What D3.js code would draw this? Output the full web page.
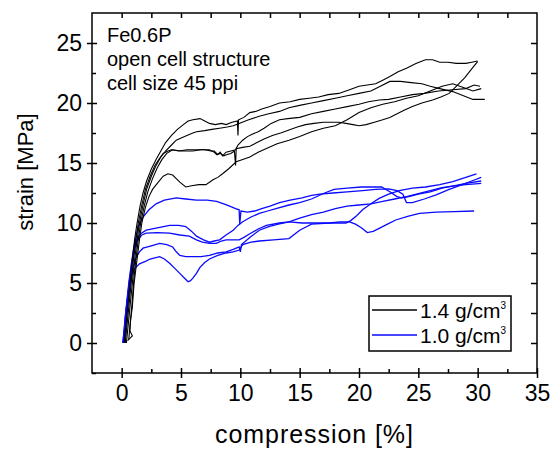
<!DOCTYPE html>
<html>
<head>
<meta charset="utf-8">
<script src="https://cdn.jsdelivr.net/npm/d3@7"></script>
<style>
  body { margin: 0; background: #fff; }
  svg { display: block; font-family: "Liberation Sans", Arial, sans-serif; }
</style>
</head>
<body>
<div id="chart"></div>
<script>
// axis ticks
const xMajor = [0, 5, 10, 15, 20, 25, 30, 35];
const xMinor = [2.5, 7.5, 12.5, 17.5, 22.5, 27.5, 32.5];
const yMajor = [0, 5, 10, 15, 20, 25];
const yMinor = [-2.5, 2.5, 7.5, 12.5, 17.5, 22.5];

const notes = ["Fe0.6P", "open cell structure", "cell size 45 ppi"];
const legendLabels = ["1.4 g/cm", "1.0 g/cm"];
const legendColors = ["#000000", "#0a0aff"];

// 1.4 g/cm3 samples  [compression %, MPa]
const black1 = [[0.2,0],[0.35,1.5],[0.5,3],[0.7,5],[0.9,7],[1.1,8.7],[1.3,10],[1.55,11.4],[1.8,12.5],[2.1,13.5],[2.5,14.5],[2.9,15.3],[3.3,16],[3.7,16.7],[4.2,17.3],[4.7,17.8],[5.2,18.2],[5.6,18.5],[6.0,18.6],[6.6,18.7],[7.0,18.5],[7.4,18.3],[7.9,18.2],[8.4,18.3],[8.8,18.2],[9.3,18.4],[9.75,18.5],[9.8,17.3],[9.85,18.6],[10.3,18.8],[10.8,19.2],[11.3,19.3],[11.8,19.5],[12.5,19.7],[13.3,20.0],[14.2,20.1],[15.0,20.3],[15.8,20.4],[16.6,20.5],[17.4,20.7],[18.3,20.8],[19.2,21.1],[20.0,21.4],[20.7,21.5],[21.4,21.6],[22.0,21.9],[22.6,22.2],[23.3,22.6],[24.0,22.9],[24.8,23.3],[25.6,23.6],[26.2,23.6],[26.8,23.4],[27.5,23.4],[28.2,23.3],[29.0,23.3],[29.5,23.4],[30.0,23.5]];
const black2 = [[0.3,0],[0.45,1.5],[0.6,3],[0.8,5],[1.0,7],[1.2,8.6],[1.4,10],[1.7,11.5],[2.0,12.8],[2.4,13.9],[2.8,14.8],[3.2,15.4],[3.5,15.8],[3.9,16.0],[4.2,16.1],[4.8,16.0],[5.5,16.1],[6.2,16.1],[7.0,16.1],[7.5,16.0],[7.8,16.0],[8.1,15.7],[8.3,15.9],[8.5,15.6],[8.8,15.9],[9.2,16.0],[9.6,16.1],[9.8,16.5],[10.2,16.9],[10.6,17.2],[11.0,17.4],[11.5,17.6],[12.0,17.9],[12.6,18.3],[13.3,18.6],[14.0,18.7],[15.0,18.8],[16.0,19.1],[17.0,19.3],[18.0,19.5],[19.0,19.7],[20.0,19.9],[20.8,20.1],[21.7,20.25],[22.5,20.3],[23.5,20.5],[24.5,20.7],[25.5,20.8],[26.7,21.0],[27.9,21.1],[29.0,21.2],[29.7,21.5],[30.2,21.4]];
const black3 = [[0.4,0],[0.55,1.5],[0.7,3],[0.9,5],[1.1,7],[1.3,8.6],[1.5,10],[1.8,11.5],[2.1,12.8],[2.5,13.9],[2.9,14.8],[3.3,15.5],[3.7,16.0],[4.2,16.5],[4.6,16.9],[5.3,17.2],[6.0,17.5],[6.3,17.6],[7.0,17.7],[7.6,17.8],[8.25,17.9],[8.9,18.0],[9.4,18.1],[9.9,18.3],[10.7,18.6],[11.6,18.9],[12.4,19.1],[13.3,19.3],[14.1,19.6],[15.0,19.8],[16.0,20.0],[17.0,20.2],[18.0,20.4],[19.0,20.6],[20.0,20.8],[21.0,21.0],[21.8,21.4],[22.6,21.8],[23.5,21.8],[24.4,21.7],[25.3,21.6],[26.0,21.4],[26.8,21.2],[27.9,20.95],[28.8,20.6],[29.6,20.3],[30.6,20.3]];
const black4 = [[0.5,0.2],[0.9,0.6],[0.7,1.0],[0.75,2],[0.85,3],[1.0,5],[1.2,7],[1.4,8.6],[1.6,10],[1.9,11.4],[2.2,12.6],[2.6,13.7],[3.0,14.6],[3.4,15.3],[3.8,15.8],[4.3,16.1],[5.0,16.0],[6.0,16.0],[6.7,16.1],[7.4,16.1],[7.8,15.9],[8.0,15.7],[8.3,15.8],[8.6,15.6],[8.9,15.7],[9.2,15.8],[9.5,16.0],[9.6,14.8],[9.65,16.2],[10.2,16.3],[10.8,16.4],[11.4,16.7],[12.0,17.0],[12.7,17.3],[13.4,17.5],[14.1,17.75],[14.8,18.0],[15.5,18.2],[16.2,18.3],[17.0,18.4],[17.7,18.4],[18.3,18.4],[18.9,18.3],[19.5,18.2],[20.0,18.1],[20.6,18.2],[21.3,18.4],[22.0,18.6],[22.6,18.8],[23.0,19.0],[23.8,19.4],[24.5,19.7],[25.3,20.0],[26.2,20.25],[26.9,20.5],[27.6,20.8],[28.0,21.2],[28.4,21.6],[28.9,22.1],[29.3,22.6],[29.7,23.1],[30.0,23.45]];
const black5 = [[0.6,0.3],[0.7,1.5],[0.9,3],[1.05,5],[1.3,7],[1.5,8.6],[1.7,10],[2.0,11.3],[2.3,12.2],[2.6,12.8],[3.0,13.3],[3.5,13.9],[3.9,14.1],[4.3,14.0],[4.6,13.7],[4.9,13.4],[5.4,13.0],[5.9,13.1],[6.5,13.2],[7.1,13.2],[7.7,13.6],[8.1,13.8],[8.5,14.1],[9.0,14.5],[9.65,15.1],[10.2,15.3],[10.8,15.5],[11.5,15.9],[12.2,16.2],[13.1,16.6],[14.1,16.9],[15.0,17.2],[16.0,17.6],[17.0,17.9],[18.0,18.1],[19.0,18.6],[20.0,19.2],[21.0,19.6],[22.0,19.9],[23.0,20.1],[24.0,20.4],[25.0,20.6],[26.0,21.0],[27.0,21.4],[27.9,21.6],[28.8,21.3],[29.6,21.0],[30.3,21.2]];

// 1.0 g/cm3 samples
const blue1 = [[0.1,0],[0.2,1],[0.3,2.2],[0.45,3.6],[0.6,5],[0.8,6.5],[1.0,7.8],[1.2,8.8],[1.4,9.7],[1.8,10.5],[2.3,11.1],[2.9,11.6],[3.6,11.9],[4.6,12.1],[5.4,12.0],[6.3,11.9],[7.2,11.9],[8.0,11.8],[8.6,11.6],[9.1,11.4],[9.6,11.2],[9.9,11.1],[9.95,9.9],[10.05,11.0],[10.6,10.9],[11.2,11.0],[11.8,11.2],[12.5,11.4],[13.3,11.7],[14.2,11.9],[15.2,12.1],[16.0,12.3],[16.7,12.4],[17.8,12.5],[19.0,12.6],[20.3,12.7],[21.4,12.8],[22.5,12.85],[23.2,12.7],[23.7,12.4],[24.0,11.7],[24.5,11.7],[25.5,12.0],[26.5,12.35],[27.6,12.8],[28.7,13.2],[29.5,13.5],[30.3,13.8]];
const blue2 = [[0.15,0],[0.25,1.2],[0.35,2.5],[0.5,3.8],[0.65,5.2],[0.85,6.6],[1.05,7.8],[1.3,8.7],[1.6,9.1],[2.07,9.4],[3.0,9.6],[4.04,9.8],[4.8,9.8],[5.4,9.7],[5.9,9.3],[6.3,8.9],[6.9,8.6],[7.4,8.4],[7.8,8.5],[8.25,8.6],[8.8,9.0],[9.4,9.4],[9.8,9.8],[10.2,10.1],[10.9,10.5],[11.6,10.8],[12.3,11.0],[13.0,11.2],[14.1,11.5],[15.0,11.7],[16.0,12.0],[17.1,12.5],[17.9,12.8],[19.0,12.9],[20.2,13.0],[21.0,13.0],[21.9,13.0],[22.6,12.6],[23.2,12.2],[23.6,12.1],[24.2,12.2],[25.0,12.4],[26.0,12.6],[27.0,12.9],[28.0,13.1],[29.0,13.3],[30.3,13.5]];
const blue3 = [[0.2,0],[0.3,1.3],[0.4,2.6],[0.55,4],[0.7,5.3],[0.9,6.7],[1.1,7.9],[1.35,8.6],[1.7,9.0],[2.07,9.15],[3.0,9.2],[4.04,9.15],[4.9,9.0],[5.7,8.9],[6.3,8.6],[6.8,8.4],[7.4,8.3],[7.97,8.3],[8.4,8.5],[8.8,8.6],[9.4,8.6],[9.9,8.6],[10.3,8.8],[10.8,9.1],[11.5,9.5],[12.2,9.8],[13.3,10.0],[14.1,10.1],[15.2,10.0],[16.1,10.0],[17.5,10.0],[18.9,10.0],[19.3,10.2],[19.8,10.6],[20.3,11.1],[21.0,11.6],[21.7,12.05],[22.5,12.4],[23.4,12.7],[24.5,12.9],[25.6,13.0],[26.8,13.2],[27.9,13.45],[29.0,13.8],[29.9,14.1]];
const blue4 = [[0.25,0],[0.35,1.2],[0.45,2.4],[0.6,3.8],[0.75,5.0],[0.95,6.2],[1.2,7.1],[1.5,7.6],[1.8,7.9],[2.5,8.1],[3.2,8.3],[3.8,8.2],[4.3,8.0],[4.6,7.6],[4.9,7.3],[5.4,7.2],[6.0,7.2],[6.7,7.2],[7.4,7.3],[8.1,7.5],[8.8,7.6],[9.4,7.8],[9.9,8.0],[10.0,7.6],[10.1,8.2],[10.8,8.8],[11.6,9.4],[12.4,9.7],[13.2,9.9],[14.1,10.1],[15.0,10.4],[16.0,10.7],[17.0,10.9],[18.0,11.2],[19.0,11.4],[20.0,11.5],[21.0,11.6],[22.0,11.8],[23.0,12.0],[24.0,12.2],[25.0,12.45],[26.0,12.7],[27.0,12.95],[28.0,13.1],[29.0,13.2],[30.3,13.3]];
const blue5 = [[0.1,0],[0.2,1],[0.3,2],[0.4,3],[0.55,4.2],[0.7,5.2],[0.9,5.9],[1.2,6.3],[1.5,6.6],[2.0,6.8],[2.4,7.0],[3.2,7.2],[3.6,7.0],[4.04,6.64],[4.5,6.2],[4.9,5.8],[5.3,5.4],[5.6,5.1],[5.8,5.2],[6.0,5.4],[6.3,5.8],[6.6,6.3],[7.0,6.7],[7.4,7.0],[8.1,7.3],[8.8,7.5],[9.4,7.6],[9.9,7.75],[10.2,8.2],[10.9,8.4],[11.6,8.5],[12.8,8.6],[14.1,8.7],[15.0,9.4],[16.0,9.9],[17.5,10.0],[18.4,10.1],[19.2,10.1],[19.7,9.9],[20.2,9.6],[20.7,9.2],[21.2,9.3],[21.7,9.55],[22.4,9.9],[23.1,10.25],[24.1,10.55],[25.1,10.8],[26.5,10.9],[28.0,10.95],[29.7,11.0]];

const blackSet = [black1, black2, black3, black4, black5];
const blueSet = [blue1, blue2, blue3, blue4, blue5];

const W = 551, H = 449;
const m = {left: 92, right: 537, top: 13, bottom: 373};

const svg = d3.select("#chart").append("svg")
  .attr("width", W)
  .attr("height", H);

const x = d3.scaleLinear().domain([-2.5, 35]).range([m.left, m.right]);
const y = d3.scaleLinear().domain([-2.5, 27.5]).range([m.bottom, m.top]);

const line = d3.line()
  .x(d => x(d[0]))
  .y(d => y(d[1]));

svg.append("g").selectAll("path")
  .data(blueSet)
  .enter().append("path")
  .attr("d", line)
  .attr("fill", "none")
  .attr("stroke", legendColors[1])
  .attr("stroke-width", 1.3);

svg.append("g").selectAll("path")
  .data(blackSet)
  .enter().append("path")
  .attr("d", line)
  .attr("fill", "none")
  .attr("stroke", legendColors[0])
  .attr("stroke-width", 1.1);

// axes
function clean(g){
  g.select(".domain").remove();
  g.selectAll("line").attr("stroke", "#000").attr("stroke-width", 1.5);
}

const fontSize = 23;

svg.append("g")
  .attr("transform", `translate(0,${m.bottom})`)
  .call(d3.axisBottom(x).tickValues(xMajor).tickSize(5).tickPadding(7))
  .call(clean)
  .call(g => g.selectAll("text").attr("font-size", fontSize).attr("font-family", "Liberation Sans, Arial").attr("fill", "#000"));
svg.append("g")
  .attr("transform", `translate(0,${m.bottom})`)
  .call(d3.axisTop(x).tickValues(xMajor).tickSize(5).tickFormat(""))
  .call(clean);
svg.append("g")
  .attr("transform", `translate(0,${m.bottom})`)
  .call(d3.axisTop(x).tickValues(xMinor).tickSize(4).tickFormat(""))
  .call(clean);

svg.append("g")
  .attr("transform", `translate(${m.left},0)`)
  .call(d3.axisLeft(y).tickValues(yMajor).tickSize(5).tickPadding(5))
  .call(clean)
  .call(g => g.selectAll("text").attr("font-size", fontSize).attr("font-family", "Liberation Sans, Arial").attr("fill", "#000"));
svg.append("g")
  .attr("transform", `translate(${m.left},0)`)
  .call(d3.axisRight(y).tickValues(yMajor).tickSize(5).tickFormat(""))
  .call(clean);
svg.append("g")
  .attr("transform", `translate(${m.left},0)`)
  .call(d3.axisRight(y).tickValues(yMinor).tickSize(4).tickFormat(""))
  .call(clean);

// top and right, ticks inside only
svg.append("g")
  .attr("transform", `translate(0,${m.top})`)
  .call(d3.axisBottom(x).tickValues(xMajor.concat(xMinor).filter(v => v < 35)).tickSize(5).tickFormat(""))
  .call(clean);
svg.append("g")
  .attr("transform", `translate(${m.right},0)`)
  .call(d3.axisLeft(y).tickValues(yMajor.concat(yMinor).filter(v => v > -2.5)).tickSize(6).tickFormat(""))
  .call(clean);

svg.append("rect")
  .attr("x", m.left).attr("y", m.top)
  .attr("width", m.right - m.left).attr("height", m.bottom - m.top)
  .attr("fill", "none")
  .attr("stroke", "#000")
  .attr("stroke-width", 1.5);

// axis titles
svg.append("text")
  .attr("x", 314).attr("y", 443)
  .attr("text-anchor", "middle")
  .attr("font-size", 25)
  .attr("textLength", 198)
  .attr("lengthAdjust", "spacing")
  .text("compression [%]");

svg.append("text")
  .attr("transform", "translate(33,172) rotate(-90)")
  .attr("text-anchor", "middle")
  .attr("font-size", 22)
  .text("strain [MPa]");

// annotation
svg.append("g").selectAll("text")
  .data(notes)
  .enter().append("text")
  .attr("x", 107)
  .attr("y", (d, i) => 42 + i * 24)
  .attr("font-size", 20)
  .text(d => d);

// legend
const lg = svg.append("g");
lg.append("rect")
  .attr("x", 369).attr("y", 296)
  .attr("width", 142).attr("height", 55)
  .attr("fill", "#fff")
  .attr("stroke", "#000")
  .attr("stroke-width", 1.5);

const items = lg.selectAll("g.item")
  .data(legendLabels)
  .enter().append("g")
  .attr("transform", (d, i) => `translate(0,${310 + i * 25})`);
items.append("line")
  .attr("x1", 372).attr("x2", 417)
  .attr("stroke", (d, i) => legendColors[i])
  .attr("stroke-width", 1.5);
const lt = items.append("text")
  .attr("x", 420).attr("y", 8)
  .attr("font-size", 21);
lt.append("tspan").text(d => d);
lt.append("tspan")
  .attr("font-size", 10)
  .attr("dy", -9)
  .text("3");
</script>
</body>
</html>
